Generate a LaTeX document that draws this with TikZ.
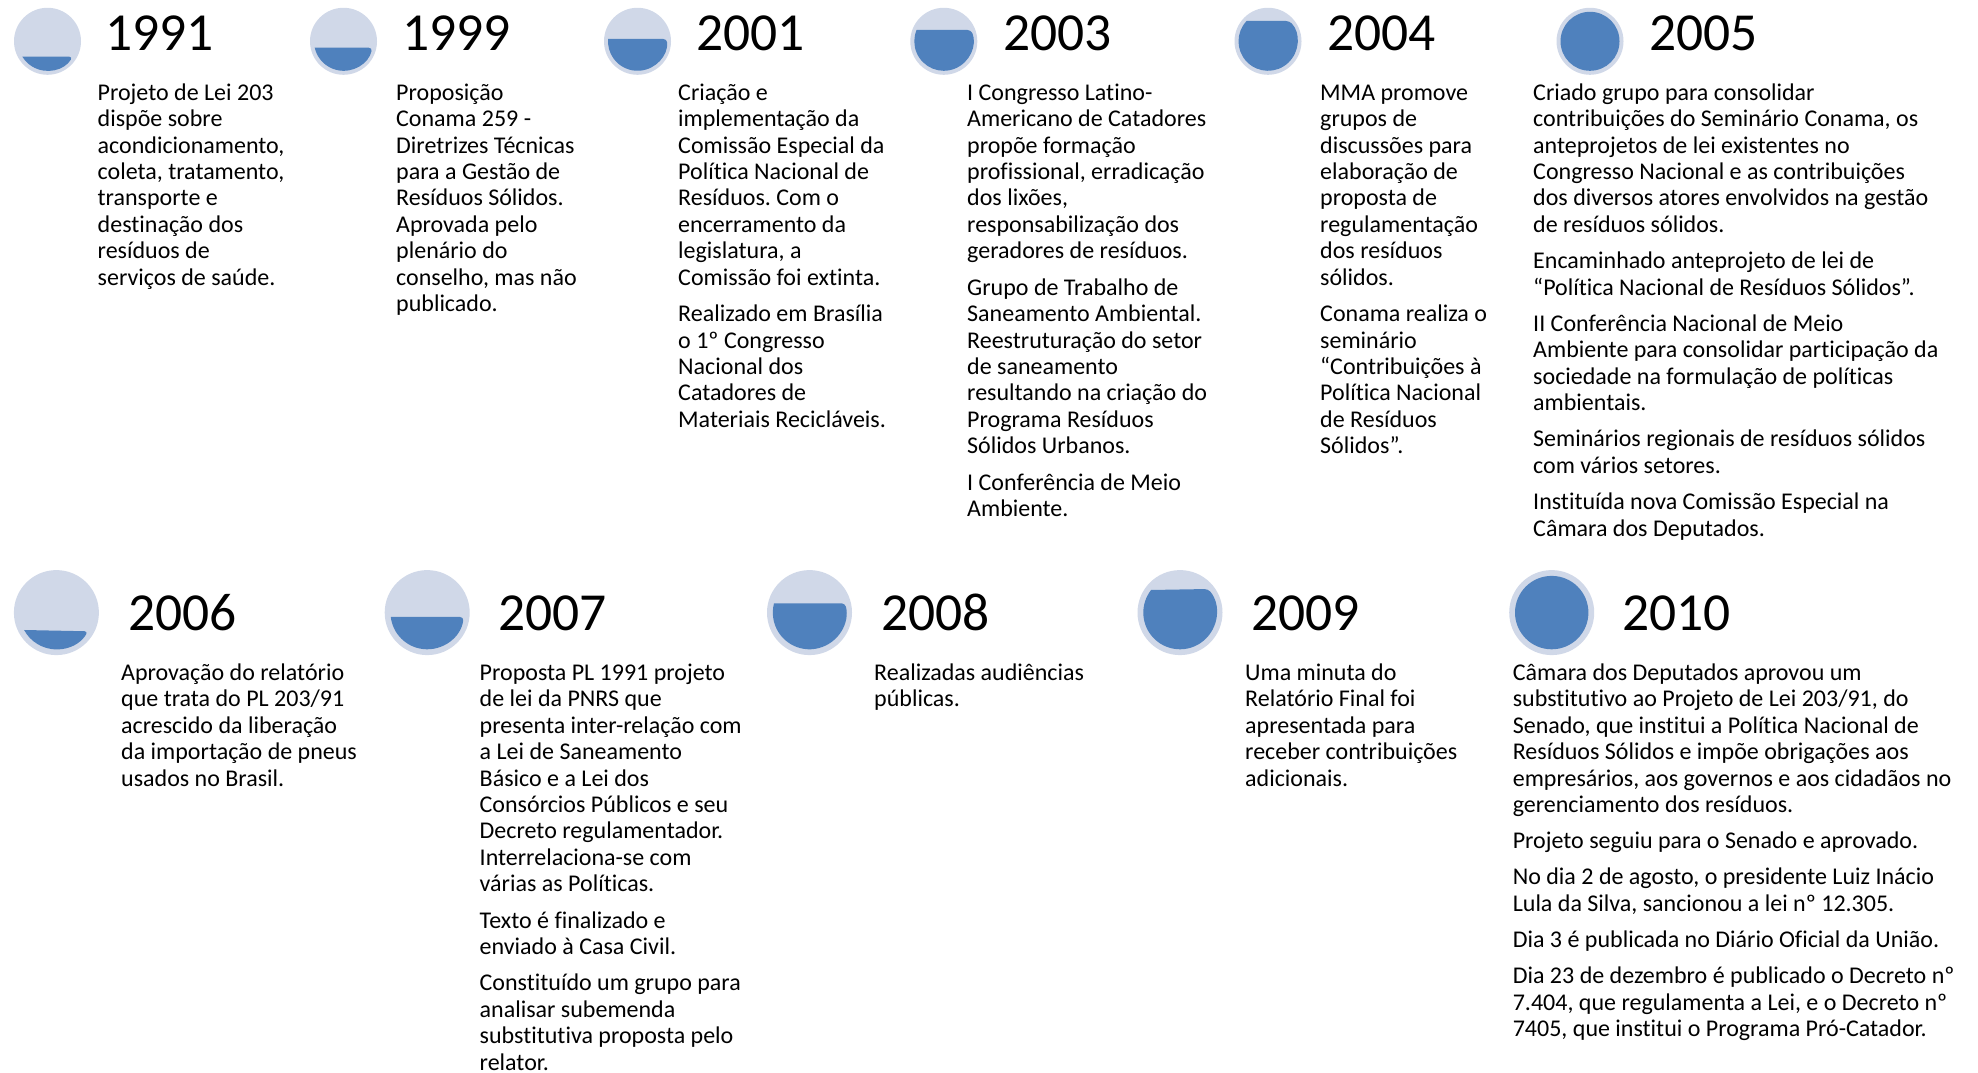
\documentclass[tikz,border=0pt]{standalone}
\usepackage{fontspec}
\setmainfont{Carlito}[Ligatures={TeX,NoCommon}]
\frenchspacing
\definecolor{ringcol}{HTML}{D0D8E8}
\definecolor{fillcol}{HTML}{4F81BD}
\tikzset{
  yearlabel/.style={anchor=base west,inner sep=0pt,font=\fontsize{53.5}{60}\selectfont},
  bodytext/.style={anchor=north west,inner sep=0pt,align=left,font=\fontsize{24}{26.45}\selectfont\frenchspacing},
  ring/.style={circle,fill=ringcol,draw=none,inner sep=0pt},
  level/.style={fill=fillcol,draw=none,rounded corners=3.5pt}
}
\newcommand{\fs}{\rule{0pt}{24pt}}
\newcommand{\pgap}{\\[9.8pt]}
% #1 name, #2 cx, #3 cy(image), #4 outer r, #5 inner r, #6 top-left y, #7 top-right y
\newcommand{\gauge}[7]{%
  \node[ring,minimum size=2*#4 pt] (#1) at (#2,1072-#3) {};
  \pgfmathsetmacro{\ar}{asin((#3-#7)/#5)}%
  \pgfmathsetmacro{\al}{asin((#3-#6)/#5)}%
  \pgfmathsetmacro{\endang}{-180-\al}%
  \path[level] (#2,1072-#3) ++(180-\al:#5) -- ++({#5*cos(\ar)+#5*cos(\al)},{#5*sin(\ar)-#5*sin(\al)}) arc[start angle=\ar,end angle=\endang,radius=#5];
}
\newcommand{\gaugefull}[5]{%
  \node[ring,minimum size=2*#4 pt] (#1) at (#2,1072-#3) {};
  \fill[fillcol] (#2,1072-#3) circle[radius=#5];
}
\begin{document}
\begin{tikzpicture}[x=1pt,y=1pt]
\path[use as bounding box,fill=white] (0,0) rectangle (1978,1072);
% row 1 gauges
\gauge{g1991}{47.5}{41.3}{33.5}{29.5}{56.7}{56.7}
\gauge{g1999}{343.5}{41.3}{33.5}{29.5}{47.7}{47.7}
\gauge{g2001}{637.5}{41.3}{33.5}{29.5}{39}{39}
\gauge{g2003}{943.8}{41.3}{33.5}{29.5}{30}{30}
\gauge{g2004}{1268}{41.3}{33.5}{29.5}{21}{21}
\gaugefull{g2005}{1590}{41.3}{33.5}{29.5}
% row 2 gauges
\gauge{g2006}{56.4}{612.6}{42.5}{36.7}{630}{631.3}
\gauge{g2007}{427.2}{612.6}{42.5}{36.7}{617}{617}
\gauge{g2008}{809.5}{612.6}{42.5}{36.7}{603.3}{603.3}
\gauge{g2009}{1180}{612.6}{42.5}{36.7}{590}{589}
\gaugefull{g2010}{1551.7}{612.6}{42.5}{36.7}
% years
\node[yearlabel] (y1991) at (105,1021) {1991};
\node[yearlabel] (y1999) at (402,1021) {1999};
\node[yearlabel] (y2001) at (696,1021) {2001};
\node[yearlabel] (y2003) at (1003,1021) {2003};
\node[yearlabel] (y2004) at (1327,1021) {2004};
\node[yearlabel] (y2005) at (1649,1021) {2005};
\node[yearlabel] (y2006) at (128,441) {2006};
\node[yearlabel] (y2007) at (498,441) {2007};
\node[yearlabel] (y2008) at (881,441) {2008};
\node[yearlabel] (y2009) at (1251,441) {2009};
\node[yearlabel] (y2010) at (1622,441) {2010};
% texts row 1 (first baseline at y=100 -> 972)
\node[bodytext] (t1991) at (97.5,996) {\fs Projeto de Lei 203\\dispõe sobre\\acondicionamento,\\coleta, tratamento,\\transporte e\\destinação dos\\resíduos de\\serviços de saúde.};
\node[bodytext] (t1999) at (396,996) {\fs Proposição\\Conama 259 -\\Diretrizes Técnicas\\para a Gestão de\\Resíduos Sólidos.\\Aprovada pelo\\plenário do\\conselho, mas não\\publicado.};
\node[bodytext] (t2001) at (678,996) {\fs Criação e\\implementação da\\Comissão Especial da\\Política Nacional de\\Resíduos. Com o\\encerramento da\\legislatura, a\\Comissão foi extinta.\pgap Realizado em Brasília\\o 1º Congresso\\Nacional dos\\Catadores de\\Materiais Recicláveis.};
\node[bodytext] (t2003) at (967,996) {\fs I Congresso Latino-\\Americano de Catadores\\propõe formação\\profissional, erradicação\\dos lixões,\\responsabilização dos\\geradores de resíduos.\pgap Grupo de Trabalho de\\Saneamento Ambiental.\\Reestruturação do setor\\de saneamento\\resultando na criação do\\Programa Resíduos\\Sólidos Urbanos.\pgap I Conferência de Meio\\Ambiente.};
\node[bodytext] (t2004) at (1320,996) {\fs MMA promove\\grupos de\\discussões para\\elaboração de\\proposta de\\regulamentação\\dos resíduos\\sólidos.\pgap Conama realiza o\\seminário\\“Contribuições à\\Política Nacional\\de Resíduos\\Sólidos”.};
\node[bodytext] (t2005) at (1533,996) {\fs Criado grupo para consolidar\\contribuições do Seminário Conama, os\\anteprojetos de lei existentes no\\Congresso Nacional e as contribuições\\dos diversos atores envolvidos na gestão\\de resíduos sólidos.\pgap Encaminhado anteprojeto de lei de\\“Política Nacional de Resíduos Sólidos”.\pgap II Conferência Nacional de Meio\\Ambiente para consolidar participação da\\sociedade na formulação de políticas\\ambientais.\pgap Seminários regionais de resíduos sólidos\\com vários setores.\pgap Instituída nova Comissão Especial na\\Câmara dos Deputados.};
% texts row 2 (first baseline at y=680 -> 392)
\node[bodytext] (t2006) at (121,416) {\fs Aprovação do relatório\\que trata do PL 203/91\\acrescido da liberação\\da importação de pneus\\usados no Brasil.};
\node[bodytext] (t2007) at (479.5,416) {\fs Proposta PL 1991 projeto\\de lei da PNRS que\\presenta inter-relação com\\a Lei de Saneamento\\Básico e a Lei dos\\Consórcios Públicos e seu\\Decreto regulamentador.\\Interrelaciona-se com\\várias as Políticas.\pgap Texto é finalizado e\\enviado à Casa Civil.\pgap Constituído um grupo para\\analisar subemenda\\substitutiva proposta pelo\\relator.};
\node[bodytext] (t2008) at (874,416) {\fs Realizadas audiências\\públicas.};
\node[bodytext] (t2009) at (1245,416) {\fs Uma minuta do\\Relatório Final foi\\apresentada para\\receber contribuições\\adicionais.};
\node[bodytext] (t2010) at (1512.6,416) {\fs Câmara dos Deputados aprovou um\\substitutivo ao Projeto de Lei 203/91, do\\Senado, que institui a Política Nacional de\\Resíduos Sólidos e impõe obrigações aos\\empresários, aos governos e aos cidadãos no\\gerenciamento dos resíduos.\pgap Projeto seguiu para o Senado e aprovado.\pgap No dia 2 de agosto, o presidente Luiz Inácio\\Lula da Silva, sancionou a lei nº 12.305.\pgap Dia 3 é publicada no Diário Oficial da União.\pgap Dia 23 de dezembro é publicado o Decreto nº\\7.404, que regulamenta a Lei, e o Decreto nº\\7405, que institui o Programa Pró-Catador.};
\end{tikzpicture}
\end{document}
